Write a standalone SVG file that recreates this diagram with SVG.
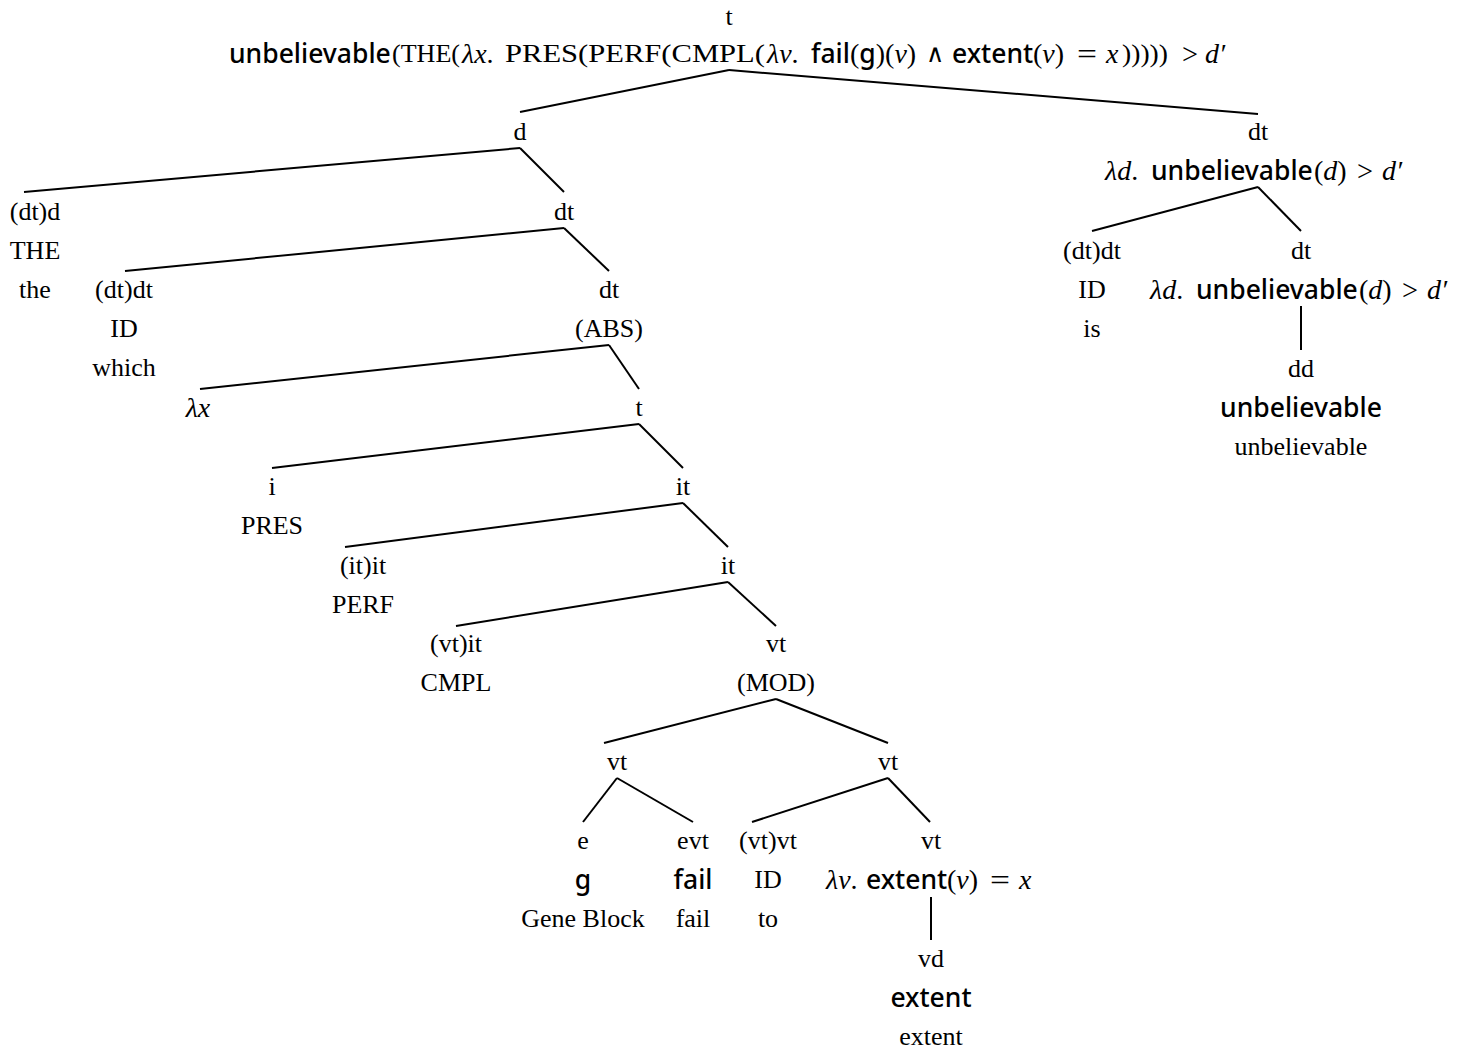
<svg xmlns="http://www.w3.org/2000/svg" width="1472" height="1052" viewBox="0 0 1472 1052">
<style>
text{font-family:"Liberation Serif","Times New Roman",serif;font-size:26px;fill:#000;text-anchor:middle;dominant-baseline:central}
.s{font-family:"Noto Sans","Open Sans",sans-serif;font-weight:500;font-size:26.5px}
.i{font-style:italic}
.a{text-anchor:start}
.t{font-size:28px}
.t .s{font-size:26.5px}
.o{font-size:30px}
.m{font-family:"DejaVu Serif",serif;font-size:25px}
.e line{stroke:#000;stroke-width:2;stroke-linecap:butt}
</style>
<rect width="1472" height="1052" fill="#fff"/>
<g class="e" id="connectors">
<line x1="729" y1="70" x2="520" y2="112"/>
<line x1="729" y1="70" x2="1258" y2="114"/>
<line x1="520" y1="148" x2="24" y2="192"/>
<line x1="520" y1="148" x2="564" y2="192"/>
<line x1="564" y1="228" x2="125" y2="271"/>
<line x1="564" y1="228" x2="609" y2="271"/>
<line x1="609" y1="345" x2="200" y2="389"/>
<line x1="609" y1="345" x2="639" y2="389"/>
<line x1="639" y1="424" x2="272" y2="468"/>
<line x1="639" y1="424" x2="683" y2="468"/>
<line x1="683" y1="503" x2="345" y2="547"/>
<line x1="683" y1="503" x2="728" y2="547"/>
<line x1="728" y1="582" x2="456" y2="626"/>
<line x1="728" y1="582" x2="776" y2="626"/>
<line x1="776" y1="699" x2="604" y2="743"/>
<line x1="776" y1="699" x2="888" y2="743"/>
<line x1="617" y1="778" x2="583" y2="822"/>
<line x1="617" y1="778" x2="693" y2="822"/>
<line x1="888" y1="778" x2="752" y2="822"/>
<line x1="888" y1="778" x2="930" y2="822"/>
<line x1="931" y1="897" x2="931" y2="940"/>
<line x1="1258" y1="187" x2="1092" y2="231"/>
<line x1="1258" y1="187" x2="1301" y2="231"/>
<line x1="1301" y1="306" x2="1301" y2="350"/>
</g>
<g id="n-root">
<text x="729" y="16">t</text>
<text class="s a" x="229" y="53">unbelievable</text>
<text class="a" x="392" y="53" textLength="68" lengthAdjust="spacingAndGlyphs">(THE(</text>
<text class="a t" x="462" y="53"><tspan class="i">λx</tspan>.</text>
<text class="a" x="505" y="53" textLength="260" lengthAdjust="spacingAndGlyphs">PRES(PERF(CMPL(</text>
<text class="a t" x="767" y="53"><tspan class="i">λv</tspan>.</text>
<text class="s a" x="811" y="53">fail</text>
<text class="a t" x="850" y="53">(<tspan class="s">g</tspan>)(<tspan class="i">v</tspan>)</text>
<text class="a m" x="926" y="53">∧</text>
<text class="s a" x="952" y="53">extent</text>
<text class="a t" x="1033" y="53">(<tspan class="i">v</tspan>)</text>
<text class="a o" x="1077" y="53" textLength="20" lengthAdjust="spacingAndGlyphs">=</text>
<text class="a i t" x="1106" y="53">x</text>
<text class="a" x="1122" y="53" textLength="46" lengthAdjust="spacingAndGlyphs">)))))</text>
<text class="a o" x="1182" y="53" textLength="16" lengthAdjust="spacingAndGlyphs">&gt;</text>
<text class="a i t" x="1205" y="53">d′</text>
</g>
<g id="n-d"><text x="520" y="131">d</text></g>
<g id="n-the"><text x="35" y="211">(dt)d</text><text x="35" y="250">THE</text><text x="35" y="289">the</text></g>
<g id="n-dt1"><text x="564" y="211">dt</text></g>
<g id="n-which"><text x="124" y="289">(dt)dt</text><text x="124" y="328">ID</text><text x="124" y="367">which</text></g>
<g id="n-abs"><text x="609" y="289">dt</text><text x="609" y="328">(ABS)</text></g>
<g id="n-lx"><text x="198" y="407" class="i t">λx</text></g>
<g id="n-t"><text x="639" y="407">t</text></g>
<g id="n-pres"><text x="272" y="486">i</text><text x="272" y="525">PRES</text></g>
<g id="n-it1"><text x="683" y="486">it</text></g>
<g id="n-perf"><text x="363" y="565">(it)it</text><text x="363" y="604">PERF</text></g>
<g id="n-it2"><text x="728" y="565">it</text></g>
<g id="n-cmpl"><text x="456" y="643">(vt)it</text><text x="456" y="682">CMPL</text></g>
<g id="n-mod"><text x="776" y="643">vt</text><text x="776" y="682">(MOD)</text></g>
<g id="n-vt1"><text x="617" y="761">vt</text></g>
<g id="n-vt2"><text x="888" y="761">vt</text></g>
<g id="n-g"><text x="583" y="840">e</text><text x="583" y="879" class="s">g</text><text x="583" y="918">Gene Block</text></g>
<g id="n-fail"><text x="693" y="840">evt</text><text x="693" y="879" class="s">fail</text><text x="693" y="918">fail</text></g>
<g id="n-to"><text x="768" y="840">(vt)vt</text><text x="768" y="879">ID</text><text x="768" y="918">to</text></g>
<g id="n-lv"><text x="931" y="840">vt</text>
<text class="a t" x="826" y="879"><tspan class="i">λv</tspan>.</text>
<text class="s a" x="866" y="879">extent</text>
<text class="a t" x="947" y="879">(<tspan class="i">v</tspan>)</text>
<text class="a o" x="990" y="879" textLength="20" lengthAdjust="spacingAndGlyphs">=</text>
<text class="a i t" x="1019" y="879">x</text>
</g>
<g id="n-extent"><text x="931" y="958">vd</text><text x="931" y="997" class="s">extent</text><text x="931" y="1036">extent</text></g>
<g id="n-dtr"><text x="1258" y="131">dt</text>
<text class="a t" x="1105" y="170"><tspan class="i">λd</tspan>.</text>
<text class="s a" x="1151" y="170">unbelievable</text>
<text class="a t" x="1314" y="170">(<tspan class="i">d</tspan>)</text>
<text class="a o" x="1357" y="170" textLength="16" lengthAdjust="spacingAndGlyphs">&gt;</text>
<text class="a i t" x="1382" y="170">d′</text>
</g>
<g id="n-is"><text x="1092" y="250">(dt)dt</text><text x="1092" y="289">ID</text><text x="1092" y="328">is</text></g>
<g id="n-dtr2"><text x="1301" y="250">dt</text>
<text class="a t" x="1150" y="289"><tspan class="i">λd</tspan>.</text>
<text class="s a" x="1196" y="289">unbelievable</text>
<text class="a t" x="1359" y="289">(<tspan class="i">d</tspan>)</text>
<text class="a o" x="1402" y="289" textLength="16" lengthAdjust="spacingAndGlyphs">&gt;</text>
<text class="a i t" x="1427" y="289">d′</text>
</g>
<g id="n-unb"><text x="1301" y="368">dd</text><text x="1301" y="407" class="s">unbelievable</text><text x="1301" y="446">unbelievable</text></g>
</svg>
